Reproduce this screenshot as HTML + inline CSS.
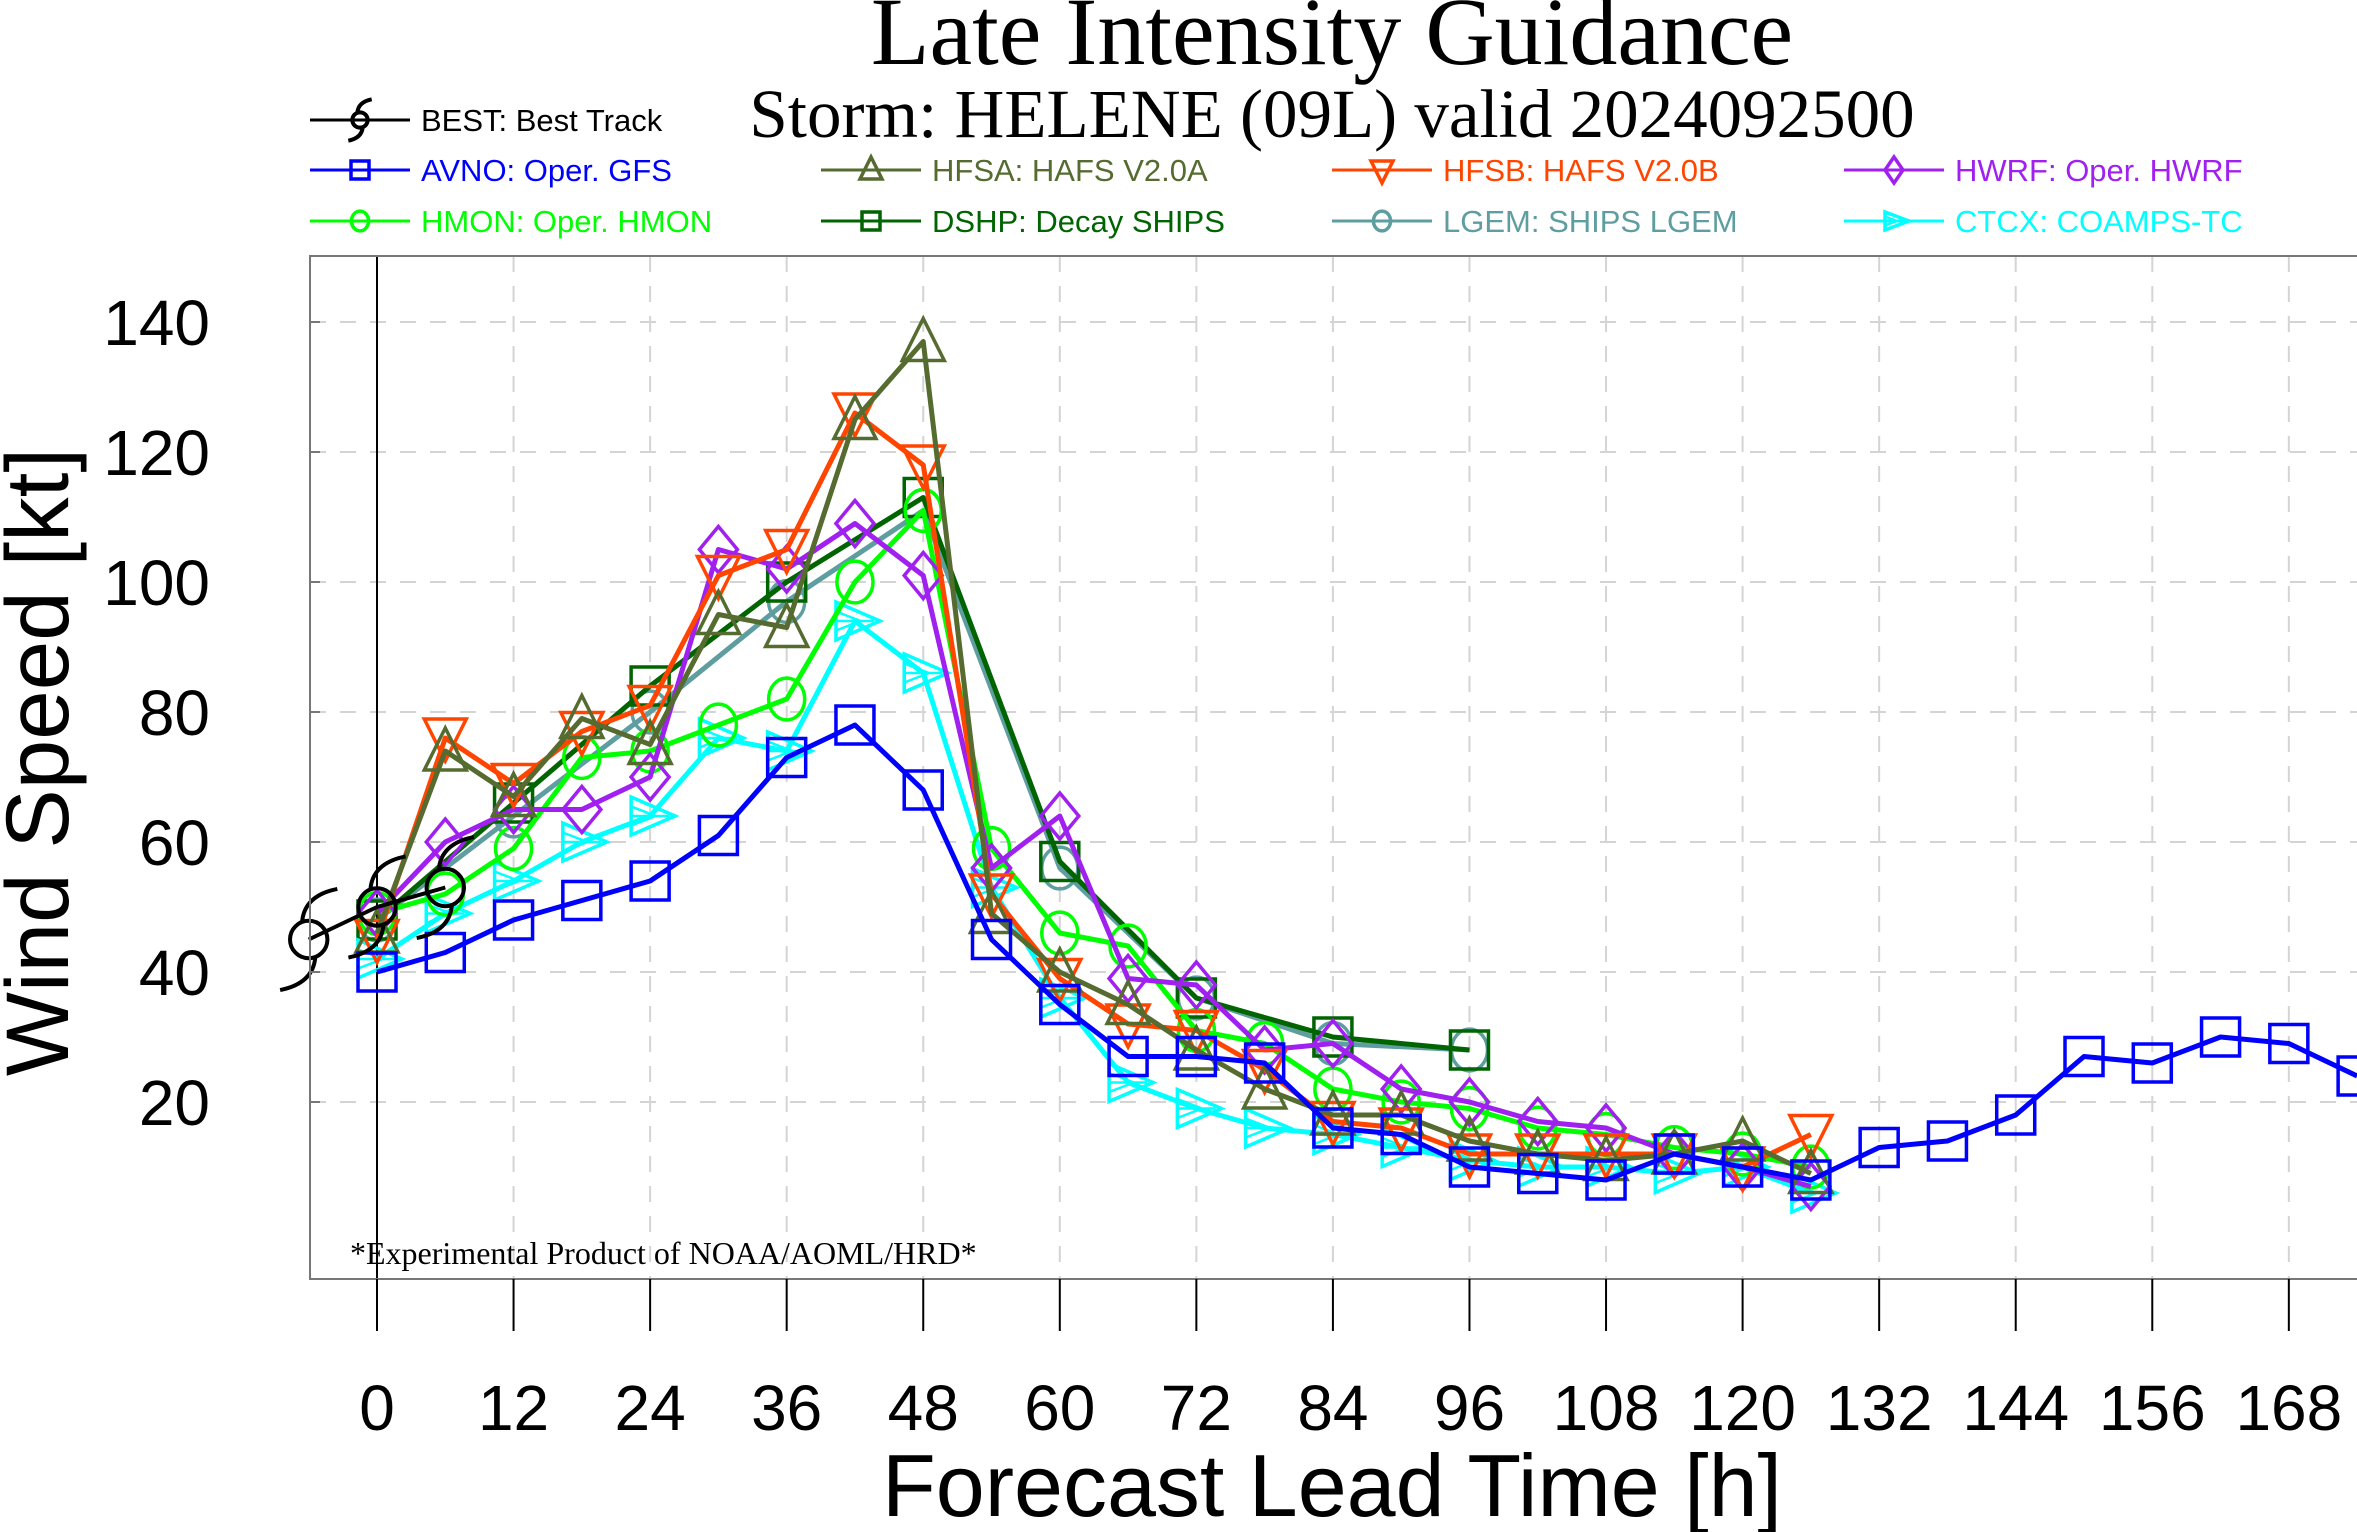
<!DOCTYPE html>
<html><head><meta charset="utf-8"><style>
html,body{margin:0;padding:0;background:#fff;}
svg{display:block;}
</style></head><body>
<svg id="chart" width="2357" height="1532" viewBox="0 0 2357 1532" xmlns="http://www.w3.org/2000/svg">
<text x="1332" y="64" text-anchor="middle" font-family="Liberation Serif, serif" font-size="96">Late Intensity Guidance</text>
<text x="1332" y="137" text-anchor="middle" font-family="Liberation Serif, serif" font-size="69">Storm: HELENE (09L) valid 2024092500</text>
<g id="grid"></g>
<g id="series"></g>
<g id="axes"></g>
<g id="legend"></g>
<text x="350" y="1264" font-family="Liberation Serif, serif" font-size="32">*Experimental Product of NOAA/AOML/HRD*</text>
<text transform="translate(68,762) rotate(-90)" text-anchor="middle" font-family="Liberation Sans, sans-serif" font-size="89">Wind Speed [kt]</text>
<text x="1332" y="1516" text-anchor="middle" font-family="Liberation Sans, sans-serif" font-size="88">Forecast Lead Time [h]</text>
</svg>
<script>
const xTicks = [0,12,24,36,48,60,72,84,96,108,120,132,144,156,168];
const yTicks = [20,40,60,80,100,120,140];
const hours = [0,6,12,18,24,30,36,42,48,54,60,66,72,78,84,90,96,102,108,114,120,126,132,138,144,150,156,162,168,174];
const bestHours = [-6,0,6];
const bestVals = [45,50,53];
const avnoVals = [40,43,48,51,54,61,73,78,68,45,35,27,27,26,16,15,10,9,8,12,10,8,13,14,18,27,26,30,29,24];
const hfsaVals = [46,74,67,79,75,95,93,125,137,49,40,35,28,22,18,18,14,12,11,12,14,9];
const hfsbVals = [45,76,69,77,81,101,105,126,118,52,39,32,31,25,17,16,12,12,12,12,10,15];
const hwrfVals = [49,60,65,65,70,105,102,109,101,56,64,39,38,28,29,22,20,17,16,12,10,7];
const hmonVals = [49,52,59,73,74,78,82,100,111,59,46,44,31,29,22,20,19,16,15,13,12,10];
const dshpHours = [0,12,24,36,48,60,72,84,96];
const dshpVals = [48,66,84,100,113,57,36,30,28];
const lgemVals = [48,64,80,97,111,56,36,29,28];
const ctcxVals = [42,49,54,60,64,76,74,94,86,53,36,23,19,16,15,13,11,10,10,9,10,6];

const L=310,R=2357,T=256,B=1279;
const X0=377, PXH=11.38;
const Y0=1232, PXK=6.5;
function xs(h){return X0+h*PXH;}
function ys(v){return Y0-v*PXK;}
const NS="http://www.w3.org/2000/svg";
function mk(tag,attrs,parent){const e=document.createElementNS(NS,tag);for(const k in attrs)e.setAttribute(k,attrs[k]);parent.appendChild(e);return e;}

const grid=document.getElementById('grid');
xTicks.forEach(h=>{
  const g=mk('line',{x1:xs(h),x2:xs(h),y1:T,y2:B,stroke:'#d4d4d4','stroke-width':2,'stroke-dasharray':'16,14'},grid);
  
  
});
yTicks.forEach(v=>{
  const g=mk('line',{x1:L,x2:R,y1:ys(v),y2:ys(v),stroke:'#d4d4d4','stroke-width':2,'stroke-dasharray':'16,14'},grid);
  
  
});
const zl=mk('line',{x1:xs(0),x2:xs(0),y1:T,y2:B,stroke:'#000','stroke-width':2},grid);



const axes=document.getElementById('axes');
const fr=mk('rect',{x:L,y:T,width:R-L+2,height:B-T,fill:'none',stroke:'#777','stroke-width':2},axes);


xTicks.forEach(h=>{
  const t=mk('line',{x1:xs(h),x2:xs(h),y1:B,y2:B+52,stroke:'#000','stroke-width':2},axes);
  
  
  const lb=mk('text',{x:xs(h),y:1430,'text-anchor':'middle','font-family':'Liberation Sans, sans-serif','font-size':64},axes);
  lb.textContent=h;
  
  
});
yTicks.forEach(v=>{
  const t=mk('line',{x1:L,x2:L+10,y1:ys(v),y2:ys(v),stroke:'#777','stroke-width':2},axes);
  
  
  const lb=mk('text',{x:210,y:ys(v)+23,'text-anchor':'end','font-family':'Liberation Sans, sans-serif','font-size':64},axes);
  lb.textContent=v;
  
  
});

function marker(type,x,y,color,parent,s){
  s=s||19;const sw=3.5;let e;
  if(type==='square') e=mk('rect',{x:x-s,y:y-s,width:2*s,height:2*s,fill:'none',stroke:color,'stroke-width':sw},parent);
  else if(type==='up') e=mk('polygon',{points:`${x},${y-s-4} ${x-s-2},${y+s} ${x+s+2},${y+s}`,fill:'none',stroke:color,'stroke-width':sw},parent);
  else if(type==='down') e=mk('polygon',{points:`${x},${y+s+4} ${x-s-2},${y-s} ${x+s+2},${y-s}`,fill:'none',stroke:color,'stroke-width':sw},parent);
  else if(type==='diamond') e=mk('polygon',{points:`${x},${y-s-4} ${x+s},${y} ${x},${y+s+4} ${x-s},${y}`,fill:'none',stroke:color,'stroke-width':sw},parent);
  else if(type==='circle') e=mk('ellipse',{cx:x,cy:y,rx:s*0.95,ry:s*1.1,fill:'none',stroke:color,'stroke-width':sw},parent);
  else if(type==='right'){
    e=mk('g',{},parent);
    mk('polygon',{points:`${x-s},${y-s} ${x+s+6},${y} ${x-s},${y+s}`,fill:'none',stroke:color,'stroke-width':sw},e);
    mk('path',{d:`M${x-s},${y-s*0.5} L${x+s*0.3},${y} M${x-s},${y+s*0.5} L${x+s*0.3},${y} M${x-s},${y} L${x+s},${y}`,fill:'none',stroke:color,'stroke-width':2.5},e);
  } else if(type==='spiral'){
    e=mk('g',{},parent);
    mk('circle',{cx:x,cy:y,r:s*0.85,fill:'none',stroke:color,'stroke-width':4},e);
    mk('path',{d:`M${x-s*0.3},${y-s*0.8} Q${x-s*0.2},${y-s*2} ${x+s*1.3},${y-s*2.3} M${x+s*0.3},${y+s*0.8} Q${x+s*0.2},${y+s*2} ${x-s*1.3},${y+s*2.3}`,fill:'none',stroke:color,'stroke-width':4},e);
  }
  return e;
}

const seriesG=document.getElementById('series');
function drawSeries(name,hrs,vals,color,type,width){
  const g=mk('g',{},seriesG);
  
  
  const pts=vals.map((v,i)=>xs(hrs[i])+','+ys(v)).join(' ');
  const pl=mk('polyline',{points:pts,fill:'none',stroke:color,'stroke-width':width||5,'stroke-linejoin':'round'},g);
  
  
  vals.forEach((v,i)=>{
    const m=marker(type,xs(hrs[i]),ys(v),color,g,type==='spiral'?22:19);
    
    
  });
}
drawSeries('lgem',dshpHours,lgemVals,'#5f9ea0','circle');
drawSeries('dshp',dshpHours,dshpVals,'#006400','square');
drawSeries('ctcx',hours,ctcxVals,'#00ffff','right');
drawSeries('hmon',hours,hmonVals,'#00ff00','circle');
drawSeries('hwrf',hours,hwrfVals,'#a020f0','diamond');
drawSeries('hfsb',hours,hfsbVals,'#ff4500','down');
drawSeries('hfsa',hours,hfsaVals,'#556b2f','up');
drawSeries('avno',hours,avnoVals,'#0000ff','square');
drawSeries('best',bestHours,bestVals,'#000000','spiral',4);

const legend=document.getElementById('legend');
const entries=[
 ['best','BEST: Best Track','#000000','spiral',310,120],
 ['avno','AVNO: Oper. GFS','#0000ff','square',310,170],
 ['hfsa','HFSA: HAFS V2.0A','#556b2f','up',821,170],
 ['hfsb','HFSB: HAFS V2.0B','#ff4500','down',1332,170],
 ['hwrf','HWRF: Oper. HWRF','#a020f0','diamond',1844,170],
 ['hmon','HMON: Oper. HMON','#00ff00','circle',310,221],
 ['dshp','DSHP: Decay SHIPS','#006400','square',821,221],
 ['lgem','LGEM: SHIPS LGEM','#5f9ea0','circle',1332,221],
 ['ctcx','CTCX: COAMPS-TC','#00ffff','right',1844,221]
];
entries.forEach(e=>{
  const g=mk('g',{},legend);
  
  
  mk('line',{x1:e[4],x2:e[4]+100,y1:e[5],y2:e[5],stroke:e[2],'stroke-width':3},g);
  marker(e[3],e[4]+50,e[5],e[2],g,9);
  const t=mk('text',{x:e[4]+111,y:e[5]+11,'font-family':'Liberation Sans, sans-serif','font-size':31,fill:e[2]},g);
  t.textContent=e[1];
});
</script>
</body></html>
